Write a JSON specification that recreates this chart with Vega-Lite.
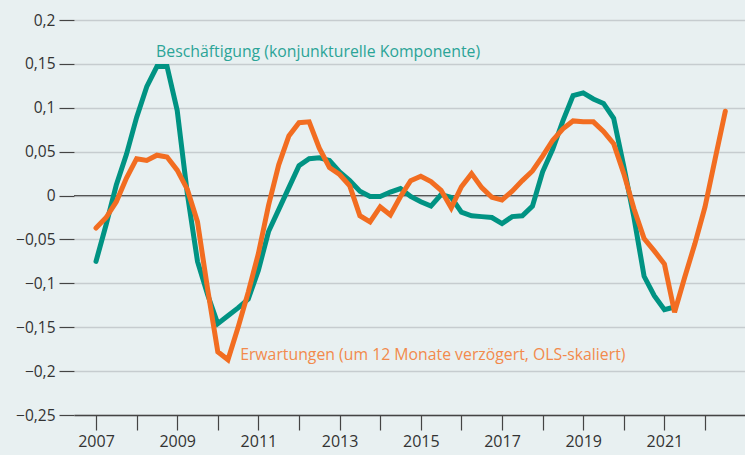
{
  "$schema": "https://vega.github.io/schema/vega-lite/v6.json",
  "width": 671,
  "height": 395,
  "autosize": "none",
  "padding": {"left": 74, "top": 20, "right": 0, "bottom": 40},
  "background": "#e8f0f1",
  "config": {"view": {"stroke": null}, "font": "Open Sans"},
  "data": {"values": [
    {"t": 2007.00, "B": -0.075, "E": -0.037},
    {"t": 2007.25, "B": -0.033, "E": -0.025},
    {"t": 2007.50, "B": 0.012, "E": -0.007},
    {"t": 2007.75, "B": 0.047, "E": 0.020},
    {"t": 2008.00, "B": 0.089, "E": 0.042},
    {"t": 2008.25, "B": 0.124, "E": 0.040},
    {"t": 2008.50, "B": 0.147, "E": 0.046},
    {"t": 2008.75, "B": 0.147, "E": 0.044},
    {"t": 2009.00, "B": 0.097, "E": 0.029},
    {"t": 2009.25, "B": 0.002, "E": 0.007},
    {"t": 2009.50, "B": -0.075, "E": -0.030},
    {"t": 2009.75, "B": -0.113, "E": -0.107},
    {"t": 2010.00, "B": -0.146, "E": -0.178},
    {"t": 2010.25, "B": -0.137, "E": -0.187},
    {"t": 2010.50, "B": -0.128, "E": -0.150},
    {"t": 2010.75, "B": -0.118, "E": -0.110},
    {"t": 2011.00, "B": -0.085, "E": -0.066},
    {"t": 2011.25, "B": -0.041, "E": -0.011},
    {"t": 2011.50, "B": -0.016, "E": 0.035},
    {"t": 2011.75, "B": 0.009, "E": 0.068},
    {"t": 2012.00, "B": 0.034, "E": 0.083},
    {"t": 2012.25, "B": 0.042, "E": 0.084},
    {"t": 2012.50, "B": 0.043, "E": 0.054},
    {"t": 2012.75, "B": 0.040, "E": 0.032},
    {"t": 2013.00, "B": 0.027, "E": 0.024},
    {"t": 2013.25, "B": 0.017, "E": 0.011},
    {"t": 2013.50, "B": 0.005, "E": -0.023},
    {"t": 2013.75, "B": -0.001, "E": -0.030},
    {"t": 2014.00, "B": -0.001, "E": -0.013},
    {"t": 2014.25, "B": 0.004, "E": -0.022},
    {"t": 2014.50, "B": 0.008, "E": -0.001},
    {"t": 2014.75, "B": -0.001, "E": 0.017},
    {"t": 2015.00, "B": -0.007, "E": 0.022},
    {"t": 2015.25, "B": -0.012, "E": 0.016},
    {"t": 2015.50, "B": 0.001, "E": 0.006},
    {"t": 2015.75, "B": -0.002, "E": -0.014},
    {"t": 2016.00, "B": -0.019, "E": 0.010},
    {"t": 2016.25, "B": -0.023, "E": 0.025},
    {"t": 2016.50, "B": -0.024, "E": 0.009},
    {"t": 2016.75, "B": -0.025, "E": -0.002},
    {"t": 2017.00, "B": -0.032, "E": -0.005},
    {"t": 2017.25, "B": -0.024, "E": 0.005},
    {"t": 2017.50, "B": -0.023, "E": 0.017},
    {"t": 2017.75, "B": -0.012, "E": 0.028},
    {"t": 2018.00, "B": 0.027, "E": 0.045},
    {"t": 2018.25, "B": 0.053, "E": 0.063},
    {"t": 2018.50, "B": 0.085, "E": 0.076},
    {"t": 2018.75, "B": 0.114, "E": 0.085},
    {"t": 2019.00, "B": 0.117, "E": 0.084},
    {"t": 2019.25, "B": 0.110, "E": 0.084},
    {"t": 2019.50, "B": 0.105, "E": 0.073},
    {"t": 2019.75, "B": 0.088, "E": 0.059},
    {"t": 2020.00, "B": 0.033, "E": 0.025},
    {"t": 2020.25, "B": -0.025, "E": -0.015},
    {"t": 2020.50, "B": -0.092, "E": -0.049},
    {"t": 2020.75, "B": -0.114, "E": -0.063},
    {"t": 2021.00, "B": -0.130, "E": -0.078},
    {"t": 2021.25, "B": -0.127, "E": -0.133},
    {"t": 2021.50, "B": null, "E": -0.093},
    {"t": 2021.75, "B": null, "E": -0.055},
    {"t": 2022.00, "B": null, "E": -0.013},
    {"t": 2022.25, "B": null, "E": 0.042},
    {"t": 2022.50, "B": null, "E": 0.096}
  ]},
  "layer": [
    {
      "mark": {"type": "line", "color": "#009383", "strokeWidth": 5, "opacity": 0},
      "encoding": {
        "x": {
          "field": "t", "type": "quantitative",
          "scale": {"domain": [2006.458, 2022.985], "nice": false, "zero": false},
          "axis": {
            "title": null,
            "values": [2007, 2008, 2009, 2010, 2011, 2012, 2013, 2014, 2015, 2016, 2017, 2018, 2019, 2020, 2021, 2022],
            "labelExpr": "datum.value % 2 == 1 ? '' + datum.value : ''",
            "grid": false,
            "tickSize": 15,
            "tickColor": "#444",
            "tickWidth": 1.2,
            "domainColor": "#444",
            "domainWidth": 1.5,
            "labelFontSize": 16,
            "labelColor": "#333",
            "labelPadding": 3,
            "labelFlush": false
          }
        },
        "y": {
          "field": "B", "type": "quantitative",
          "scale": {"domain": [-0.25, 0.2], "nice": false, "zero": false},
          "axis": {
            "title": null,
            "values": [-0.25, -0.2, -0.15, -0.1, -0.05, 0, 0.05, 0.1, 0.15, 0.2],
            "labelExpr": "replace(format(datum.value, '.2~f'), '.', ',')",
            "domain": false,
            "grid": true,
            "gridColor": "#c6cccf",
            "gridWidth": 1.5,
            "tickSize": 15,
            "tickColor": "#444",
            "tickWidth": 1.2,
            "labelFontSize": 15.5,
            "labelColor": "#333",
            "labelPadding": 4
          }
        }
      }
    },
    {
      "data": {"values": [{"z": 0}]},
      "mark": {"type": "rule", "color": "#555", "strokeWidth": 1.3},
      "encoding": {"y": {"field": "z", "type": "quantitative"}}
    },
    {
      "mark": {"type": "line", "color": "#009383", "strokeWidth": 5, "strokeCap": "round"},
      "encoding": {
        "x": {"field": "t", "type": "quantitative"},
        "y": {"field": "B", "type": "quantitative"}
      }
    },
    {
      "mark": {"type": "line", "color": "#f26d21", "strokeWidth": 5, "strokeCap": "round"},
      "encoding": {
        "x": {"field": "t", "type": "quantitative"},
        "y": {"field": "E", "type": "quantitative"}
      }
    },
    {
      "data": {"values": [{"label": "Beschäftigung (konjunkturelle Komponente)"}]},
      "mark": {"type": "text", "align": "left", "baseline": "alphabetic", "fontSize": 15.8, "fill": "#2ba497"},
      "encoding": {"x": {"datum": 2008.48}, "y": {"datum": 0.158}, "text": {"field": "label"}}
    },
    {
      "data": {"values": [{"label": "Erwartungen (um 12 Monate verzögert, OLS-skaliert)"}]},
      "mark": {"type": "text", "align": "left", "baseline": "alphabetic", "fontSize": 15.8, "fill": "#f28a4c"},
      "encoding": {"x": {"datum": 2010.55}, "y": {"datum": -0.187}, "text": {"field": "label"}}
    }
  ]
}
